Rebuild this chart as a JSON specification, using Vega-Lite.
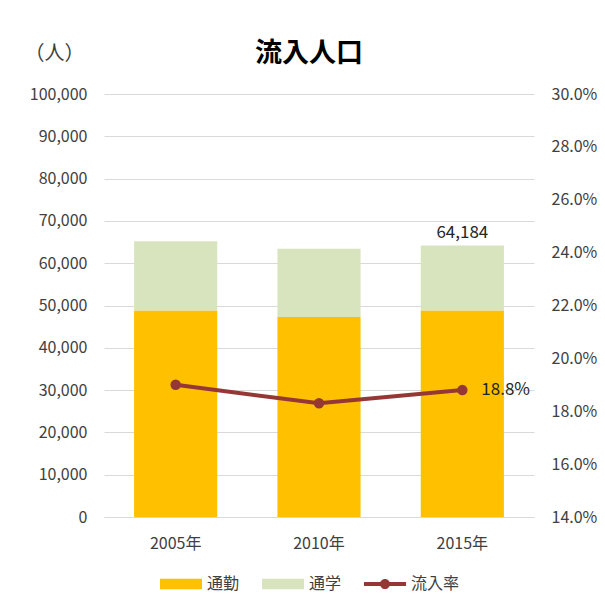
{
  "$schema": "https://vega.github.io/schema/vega-lite/v6.json",
  "width": 430,
  "height": 423,
  "autosize": {"type": "none"},
  "padding": {"left": 104, "top": 94, "right": 71, "bottom": 93},
  "background": "white",
  "config": {"font": "Noto Sans CJK JP", "view": {"stroke": null}},
  "title": {"text": "流入人口", "fontSize": 27, "fontWeight": "bold", "color": "#000000", "offset": -25, "dx": -10},
  "datasets": {
    "bars": [
      {"year": "2005年", "type": "通勤", "value": 48800},
      {"year": "2005年", "type": "通学", "value": 16400},
      {"year": "2010年", "type": "通勤", "value": 47300},
      {"year": "2010年", "type": "通学", "value": 16100},
      {"year": "2015年", "type": "通勤", "value": 48800},
      {"year": "2015年", "type": "通学", "value": 15384}
    ],
    "rate": [
      {"year": "2005年", "rate": 0.190, "total": 65200},
      {"year": "2010年", "rate": 0.183, "total": 63400},
      {"year": "2015年", "rate": 0.188, "total": 64184}
    ]
  },
  "encoding": {
    "x": {
      "field": "year", "type": "nominal",
      "scale": {"paddingInner": 0.42, "paddingOuter": 0.21},
      "axis": {"title": null, "labelAngle": 0, "labelPadding": 18, "ticks": false, "domain": true, "domainColor": "#d9d9d9", "labelFontSize": 16, "labelColor": "#404040"}
    }
  },
  "layer": [
    {
      "layer": [
        {
          "data": {"name": "bars"},
          "mark": {"type": "bar"},
          "encoding": {
            "y": {
              "field": "value", "type": "quantitative", "stack": "zero",
              "title": "（人）",
              "scale": {"domain": [0, 100000]},
              "axis": {
                "values": [0, 10000, 20000, 30000, 40000, 50000, 60000, 70000, 80000, 90000, 100000],
                "format": ",.0f", "grid": true, "gridColor": "#d9d9d9", "domain": false, "ticks": false,
                "labelPadding": 17, "labelFontSize": 16, "labelColor": "#404040",
                "titleAngle": 0, "titleX": -80, "titleY": -41, "titleAlign": "left", "titleBaseline": "middle",
                "titleFontSize": 20, "titleFontWeight": "normal", "titleColor": "#404040"
              }
            },
            "order": {"field": "type", "sort": "ascending"},
            "color": {
              "field": "type", "type": "nominal",
              "scale": {"domain": ["通勤", "通学", "流入率"], "range": ["#FFC000", "#D7E4BD", "#953735"]},
              "legend": {
                "title": null, "orient": "none", "legendX": 56, "legendY": 469, "direction": "horizontal",
                "labelFontSize": 16, "labelColor": "#404040", "symbolSize": 1764,
                "symbolType": "M-1,-0.25H1V0.25H-1Z", "columnPadding": 22, "labelOffset": 5, "symbolStrokeWidth": 0,
                "encode": {
                  "symbols": {
                    "update": {
                      "shape": {"signal": "datum.value === '流入率' ? 'M-1,-0.09H1V0.09H-1Z M0.24,0A0.24,0.24 0 1,1 -0.24,0A0.24,0.24 0 1,1 0.24,0Z' : 'M-1,-0.25H1V0.25H-1Z'"},
                      "fill": {"scale": "color", "field": "value"},
                      "opacity": {"value": 1},
                      "strokeWidth": {"value": 0}
                    }
                  }
                }
              }
            }
          }
        },
        {
          "data": {"name": "rate"},
          "transform": [{"filter": "datum.year === '2015年'"}],
          "mark": {"type": "text", "baseline": "bottom", "dy": -4, "fontSize": 17, "color": "#262626"},
          "encoding": {
            "y": {"field": "total", "type": "quantitative", "title": "（人）"},
            "text": {"field": "total", "type": "quantitative", "format": ","}
          }
        }
      ]
    },
    {
      "data": {"name": "rate"},
      "layer": [
        {
          "mark": {"type": "line", "strokeWidth": 4, "point": {"filled": true, "size": 110}},
          "encoding": {
            "y": {
              "field": "rate", "type": "quantitative", "title": null,
              "scale": {"domain": [0.14, 0.30], "zero": false},
              "axis": {
                "orient": "right", "values": [0.14, 0.16, 0.18, 0.2, 0.22, 0.24, 0.26, 0.28, 0.3],
                "format": ".1%", "grid": false, "domain": false, "ticks": false,
                "labelPadding": 17, "labelFontSize": 16, "labelColor": "#404040"
              }
            },
            "color": {"datum": "流入率", "type": "nominal"}
          }
        },
        {
          "transform": [{"filter": "datum.year === '2015年'"}],
          "mark": {"type": "text", "align": "left", "baseline": "middle", "dx": 19, "fontSize": 17, "color": "#262626"},
          "encoding": {
            "y": {"field": "rate", "type": "quantitative"},
            "text": {"field": "rate", "type": "quantitative", "format": ".1%"}
          }
        }
      ]
    }
  ],
  "resolve": {"scale": {"y": "independent"}}
}
